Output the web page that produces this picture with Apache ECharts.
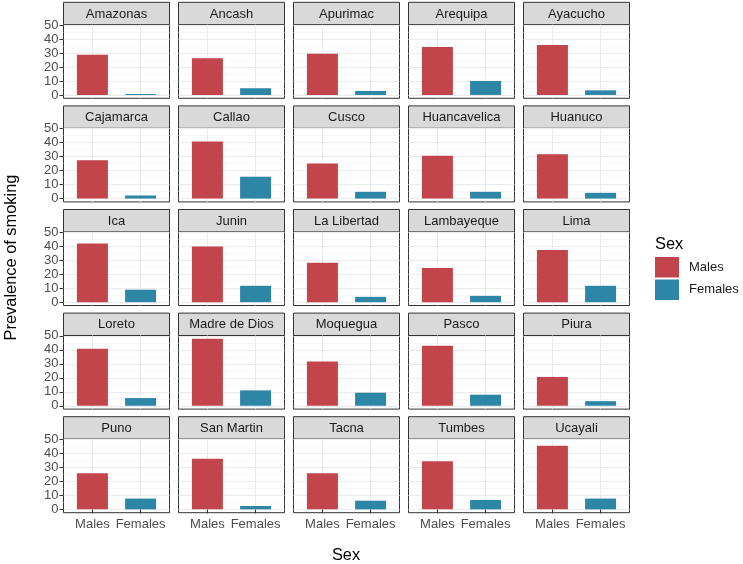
<!DOCTYPE html>
<html>
<head>
<meta charset="utf-8">
<script src="https://cdn.jsdelivr.net/npm/echarts@6/dist/echarts.min.js"></script>
<style>html,body{margin:0;padding:0;background:#fff;}#chart{width:743px;height:564px;}</style>
</head>
<body>
<div id="chart"></div>
<script>
const categories = ['Males', 'Females'];
const regions = ['Amazonas','Ancash','Apurimac','Arequipa','Ayacucho',
  'Cajamarca','Callao','Cusco','Huancavelica','Huanuco',
  'Ica','Junin','La Libertad','Lambayeque','Lima',
  'Loreto','Madre de Dios','Moquegua','Pasco','Piura',
  'Puno','San Martin','Tacna','Tumbes','Ucayali'];
const malesValues = [28.8, 26.2, 29.5, 34.3, 35.7,
  27.3, 40.7, 25.1, 30.6, 31.6,
  41.9, 39.7, 28.2, 24.4, 37.3,
  40.7, 47.8, 31.6, 42.8, 20.6,
  25.8, 36.1, 25.8, 34.4, 45.5];
const femalesValues = [0.7, 4.8, 2.9, 10.0, 3.3,
  2.2, 15.6, 4.8, 4.8, 4.1,
  8.9, 11.7, 3.8, 4.5, 11.7,
  5.5, 11.0, 9.3, 7.9, 3.3,
  7.7, 2.4, 6.2, 6.7, 7.7];
const yTicks = [0, 10, 20, 30, 40, 50];
const yMinorTicks = [5, 15, 25, 35, 45];
const xPositions = [1, 2];

const FONT = '"Liberation Sans", Arial, sans-serif';
const SMALL = 13, BIG = 16.4;
const colors = { Males: '#C1454B', Females: '#2E86A6' };
const dataMax = Math.max(...malesValues, ...femalesValues);
const yMin = -0.05 * dataMax, yMax = dataMax * 1.05;

const grids = [], xAxes = [], yAxes = [], series = [], graphics = [];
const panelW = 106, panelH = 73.6, stripH = 22.4;
regions.forEach((name, i) => {
  const col = i % 5, row = Math.floor(i / 5);
  const left = 63.5 + col * 115, top = 24.7 + row * 103.6;
  grids.push({ left, top, width: panelW, height: panelH, show: true,
    backgroundColor: '#fff', borderColor: '#333', borderWidth: 1, containLabel: false });
  xAxes.push({ type: 'value', gridIndex: i, min: 0.4, max: 2.6,
    axisLine: { show: false },
    axisTick: { show: row === 4, customValues: xPositions, length: 4, lineStyle: { color: '#333' } },
    axisLabel: { show: row === 4, customValues: xPositions, margin: 5, fontSize: SMALL, color: '#4D4D4D', fontFamily: FONT,
      formatter: v => categories[Math.round(v) - 1] },
    splitLine: { show: true, lineStyle: { color: '#EBEBEB', width: 1 } } });
  // minor grid axis
  yAxes.push({ type: 'value', gridIndex: i, min: yMin, max: yMax, position: 'right',
    axisLine: { show: false }, axisLabel: { show: false },
    axisTick: { show: false, customValues: yMinorTicks },
    splitLine: { show: true, lineStyle: { color: '#F2F2F2', width: 0.6 } } });
  // major axis
  yAxes.push({ type: 'value', gridIndex: i, min: yMin, max: yMax, position: 'left',
    axisLine: { show: false },
    axisTick: { show: col === 0, customValues: yTicks, length: 4, lineStyle: { color: '#333' } },
    axisLabel: { show: col === 0, customValues: yTicks, margin: 5, fontSize: SMALL, color: '#4D4D4D', fontFamily: FONT },
    splitLine: { show: true, lineStyle: { color: '#EBEBEB', width: 1 } } });
  series.push({ type: 'bar', name: 'Males', xAxisIndex: i, yAxisIndex: 2 * i + 1,
    barWidth: 31, barGap: '-100%', itemStyle: { color: colors.Males },
    data: [[xPositions[0], malesValues[i]]] });
  series.push({ type: 'bar', name: 'Females', xAxisIndex: i, yAxisIndex: 2 * i + 1,
    barWidth: 31, barGap: '-100%', itemStyle: { color: colors.Females },
    data: [[xPositions[1], femalesValues[i]]] });
  graphics.push({ type: 'rect', shape: { x: left, y: top - stripH, width: panelW, height: stripH },
    style: { fill: '#D9D9D9', stroke: '#333', lineWidth: 1 } });
  graphics.push({ type: 'text', x: left + panelW / 2, y: top - stripH / 2 + 0.5,
    style: { text: name, align: 'center', verticalAlign: 'middle', fontSize: SMALL, fill: '#1A1A1A', fontFamily: FONT } });
});
graphics.push({ type: 'text', x: 11, y: 257.5, rotation: Math.PI / 2,
  style: { text: 'Prevalence of smoking', align: 'center', verticalAlign: 'middle', fontSize: BIG, fill: '#000', fontFamily: FONT } });
graphics.push({ type: 'text', x: 346, y: 555,
  style: { text: 'Sex', align: 'center', verticalAlign: 'middle', fontSize: BIG, fill: '#000', fontFamily: FONT } });
graphics.push({ type: 'text', x: 655, y: 244,
  style: { text: 'Sex', align: 'left', verticalAlign: 'middle', fontSize: BIG, fill: '#000', fontFamily: FONT } });

const chart = echarts.init(document.getElementById('chart'), null, { renderer: 'canvas' });
chart.setOption({
  animation: false,
  backgroundColor: '#fff',
  grid: grids, xAxis: xAxes, yAxis: yAxes, series,
  legend: { data: categories, orient: 'vertical', left: 655, top: 257, itemWidth: 24, itemHeight: 20.5, itemGap: 2,
    icon: 'rect', padding: 0, textStyle: { fontSize: SMALL, color: '#1A1A1A', fontFamily: FONT, padding: [0, 0, 0, 5] } },
  graphic: graphics
});
</script>
</body>
</html>
